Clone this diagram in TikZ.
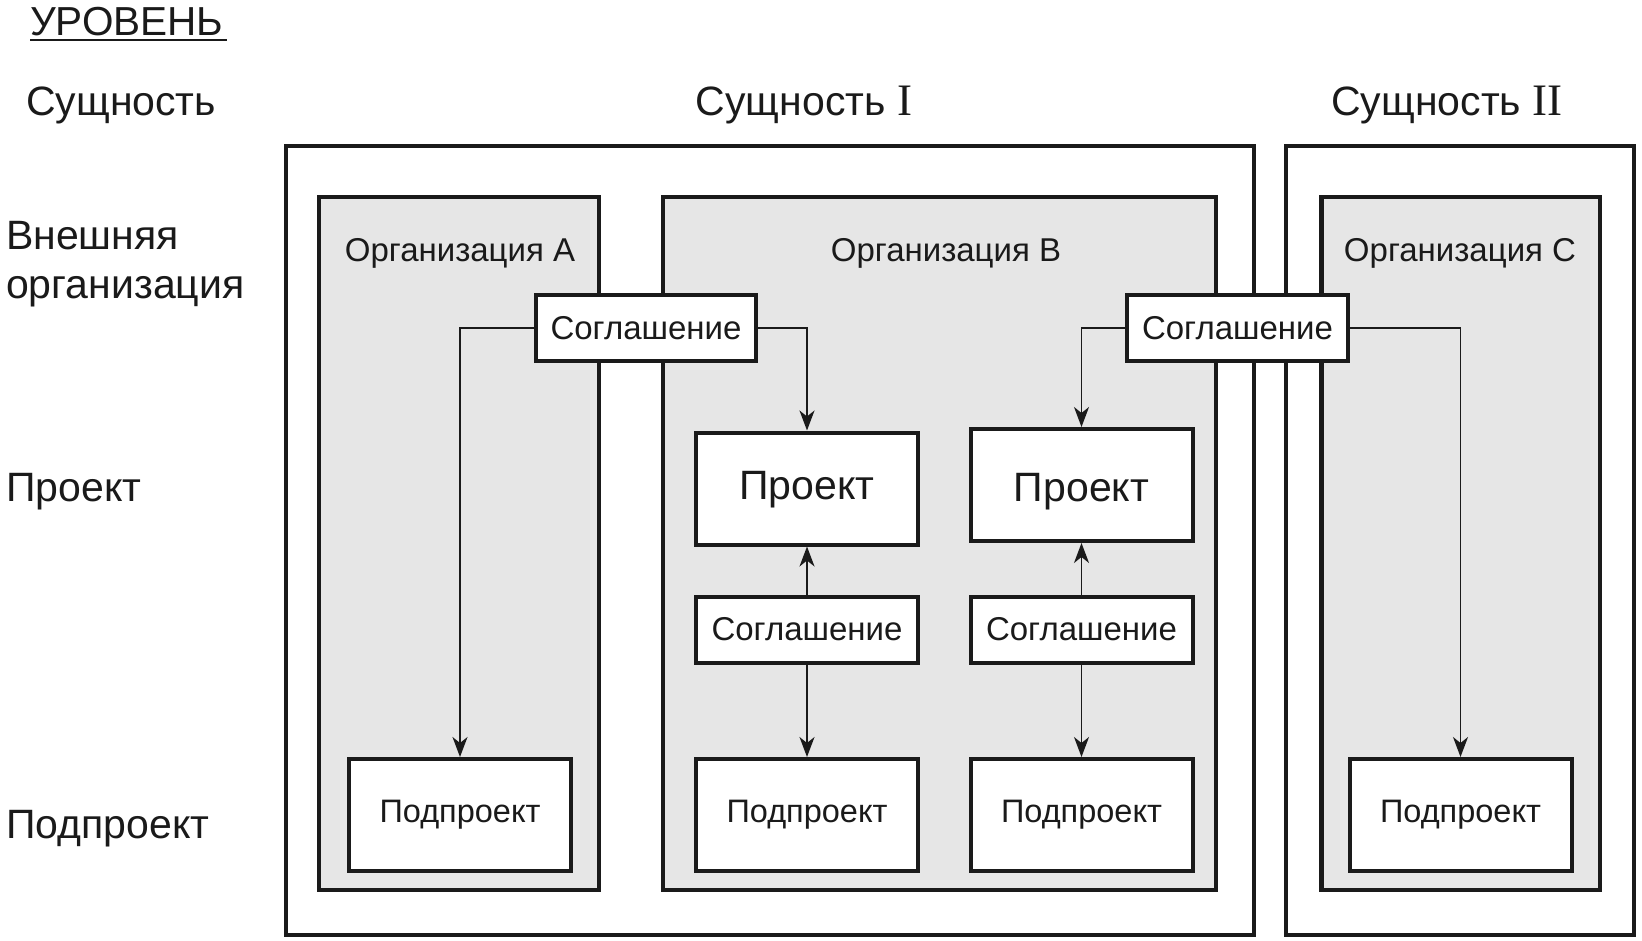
\documentclass[tikz,border=0pt]{standalone}
\usepackage{fontspec}
\setmainfont{Liberation Sans}
\newfontfamily\romnum{Liberation Serif}
\usetikzlibrary{arrows.meta}
\definecolor{orggray}{HTML}{E6E6E6}
\definecolor{ink}{HTML}{1A1A1A}
\begin{document}
\begin{tikzpicture}[x=1pt,y=-1pt,
  bigtxt/.style={font=\fontsize{41}{50}\selectfont, text=ink, inner sep=0pt},
  midtxt/.style={font=\fontsize{33}{40}\selectfont, text=ink, inner sep=0pt},
  outerbox/.style={draw=ink, line width=4pt, fill=white, minimum height=789pt, inner sep=0pt},
  orgbox/.style={draw=ink, line width=4.5pt, fill=orggray, minimum height=693pt, inner sep=0pt},
  whitebox/.style={draw=ink, line width=4pt, fill=white, inner sep=0pt, minimum width=222pt},
  agbox/.style={whitebox, minimum height=66pt, font=\fontsize{33}{40}\selectfont, text=ink},
  projbox/.style={whitebox, minimum height=112pt, font=\fontsize{41}{50}\selectfont, text=ink},
  subbox/.style={whitebox, minimum height=112pt, font=\fontsize{32.5}{40}\selectfont, text=ink},
  conn/.style={draw=ink, line width=1.8pt, -{Stealth[length=20pt,width=15pt,inset=6pt]}}
]
\useasboundingbox (0,0) rectangle (1642,941);

% level labels
\node[bigtxt, anchor=west, font=\fontsize{40.5}{47}\selectfont] (lvl) at (30,22) {УРОВЕНЬ};
\coordinate (ulA) at (30,40);
\coordinate (ulB) at (227,40);
\draw[draw=ink, line width=2.2pt] (ulA) -- (ulB);
\node[bigtxt, anchor=west] (ent) at (26,105) {Сущность};
\node[bigtxt, anchor=west, align=left] (ext) at (6,264) {Внешняя\\[-0.5pt]организация};
\node[bigtxt, anchor=west] (prj) at (6,492) {Проект};
\node[bigtxt, anchor=west] (sbp) at (6,829) {Подпроект};

% entity headings
\node[bigtxt] (e1) at (804,105) {Сущность {\romnum\fontsize{45}{50}\selectfont I}};
\node[bigtxt] (e2) at (1447,105) {Сущность {\romnum\fontsize{45}{50}\selectfont II}};

% entity boxes
\node[outerbox, minimum width=967.5pt] (ent1) at (769.75,540.3) {};
\node[outerbox, minimum width=348pt] (ent2) at (1460,540.3) {};

% organisation boxes
\node[orgbox, minimum width=280pt] (orgA) at (459,543.5) {};
\node[orgbox, minimum width=553pt] (orgB) at (939.5,543.5) {};
\node[orgbox, minimum width=278.5pt] (orgC) at (1460.75,543.5) {};
\node[midtxt] (labA) at (460,253) {Организация A};
\node[midtxt] (labB) at (946,253) {Организация B};
\node[midtxt] (labC) at (1460,253) {Организация C};

% top agreements
\node[agbox, minimum width=220pt] (ag1) at (646,328) {Соглашение};
\node[agbox, minimum width=221pt] (ag2) at (1237.5,328) {Соглашение};

% projects
\node[projbox, text height=31.5pt, text depth=8.6pt] (p1) at (807,488.5) {Проект};
\node[projbox, text height=42pt, text depth=8.6pt] (p2) at (1081.5,485) {Проект};

% inner agreements
\node[agbox] (sa1) at (807,629.5) {Соглашение};
\node[agbox] (sa2) at (1081.5,629.5) {Соглашение};

% subprojects
\node[subbox] (sA) at (460,815) {Подпроект};
\node[subbox] (sB1) at (807,815) {Подпроект};
\node[subbox] (sB2) at (1081.5,815) {Подпроект};
\node[subbox] (sC) at (1460.5,815) {Подпроект};

% connectors
\draw[conn] (ag1.west) -| (sA.north);
\draw[conn] (ag1.east) -| (p1.north);
\draw[conn] (ag2.west) -| (p2.north);
\draw[conn] (ag2.east) -| (sC.north);
\draw[conn] (sa1.north) -- (p1.south);
\draw[conn] (sa1.south) -- (sB1.north);
\draw[conn] (sa2.north) -- (p2.south);
\draw[conn] (sa2.south) -- (sB2.north);
\end{tikzpicture}
\end{document}
